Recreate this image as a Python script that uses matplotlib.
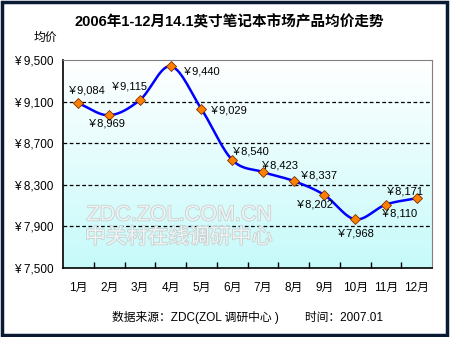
import numpy as np
import matplotlib.pyplot as plt
from matplotlib.patches import Rectangle
import matplotlib.patheffects as pe

plt.rcParams['font.family'] = ['Liberation Sans', 'Noto Sans CJK SC', 'DejaVu Sans']

months = ['1月', '2月', '3月', '4月', '5月', '6月', '7月', '8月', '9月', '10月', '11月', '12月']
prices = [9084, 8969, 9115, 9440, 9029, 8540, 8423, 8337, 8202, 7968, 8110, 8171]
yticks = [7500, 7900, 8300, 8700, 9100, 9500]
# label offsets in points (dx, dy) for each data label
label_off = [(6, 9), (-2, -6), (-8, 9.5), (22, -4), (19.5, -1), (13, 6), (12, 5), (18, 4),
             (-7.5, -6.5), (0, -10), (9.5, -6.5), (-8.5, 4.5)]


def catmull(xs, ys, n=30):
    # smooth curve like excel's smoothed line
    px = np.concatenate([[2 * xs[0] - xs[1]], xs, [2 * xs[-1] - xs[-2]]])
    py = np.concatenate([[2 * ys[0] - ys[1]], ys, [2 * ys[-1] - ys[-2]]])
    ox, oy = [], []
    for i in range(1, len(px) - 2):
        t = np.linspace(0, 1, n, endpoint=False)
        for p, out in ((px, ox), (py, oy)):
            p0, p1, p2, p3 = p[i - 1], p[i], p[i + 1], p[i + 2]
            b1 = p1 + (p2 - p0) / 6.0
            b2 = p2 - (p3 - p1) / 6.0
            out.extend((1 - t) ** 3 * p1 + 3 * (1 - t) ** 2 * t * b1 + 3 * (1 - t) * t ** 2 * b2 + t ** 3 * p2)
    ox.append(xs[-1])
    oy.append(ys[-1])
    return np.array(ox), np.array(oy)


fig = plt.figure(figsize=(4.5, 3.37), dpi=100)
fig.patch.set_facecolor('white')
fig.patches.append(Rectangle((0.004, 0.005), 0.99, 0.99, transform=fig.transFigure,
                             fill=False, edgecolor='#0b1a33', linewidth=2.5))

ax = fig.add_axes([63 / 450, 1 - 268 / 337, 369 / 450, 208 / 337])
x = np.arange(len(months))

# gradient background, white at top to light cyan at bottom
grad = np.linspace(0, 1, 256).reshape(-1, 1)
top = np.array([1.0, 1.0, 1.0])
bot = np.array([0.78, 0.98, 0.98])
img = top + (bot - top) * grad[..., None]
ax.imshow(img.reshape(256, 1, 3), extent=[-0.5, 11.5, 7500, 9500], origin='upper',
          aspect='auto', zorder=0)
ax.set_xlim(-0.5, len(months) - 0.5)
ax.set_ylim(7500, 9500)

for yv in yticks[1:-1]:
    ax.axhline(yv, color='black', linestyle=(0, (3, 2)), linewidth=0.9, zorder=1)

# watermark
wm = [pe.withStroke(linewidth=1.2, foreground='#c8d0d0')]
ax.text(3.27, 8010, 'ZDC.ZOL.COM.CN', fontsize=15.5, color='#eef4f4', ha='center', va='center',
        zorder=1, path_effects=wm)
ax.text(3.27, 7795, '中关村在线调研中心', fontsize=15, color='#eef4f4', ha='center', va='center',
        zorder=1, path_effects=wm)

sx, sy = catmull(x.astype(float), np.array(prices, dtype=float))
ax.plot(sx, sy, color='#0000ff', linewidth=1.8, zorder=3)
ax.plot(x, prices, linestyle='none', marker='D', markersize=5, markerfacecolor='#ff7f00',
        markeredgecolor='#803000', markeredgewidth=0.6, zorder=4)

for i, p in enumerate(prices):
    dx, dy = label_off[i]
    ax.annotate('￥{:,}'.format(p), (x[i], p), xytext=(dx, dy), textcoords='offset points',
                ha='center', va='center', fontsize=8, color='black', zorder=5)

ax.set_yticks(yticks)
ax.set_yticklabels(['¥ {:,}'.format(v) for v in yticks], fontsize=8.5)
ax.set_xticks(x)
ax.set_xticklabels(months, fontsize=8.5)
ax.tick_params(axis='x', length=0, pad=10)
ax.tick_params(axis='y', length=0, pad=7)
ax.set_xticks(np.arange(0.5, 11.5, 1), minor=True)
ax.tick_params(axis='x', which='minor', direction='in', length=4, width=1, color='black')
for s in ['left', 'bottom']:
    ax.spines[s].set_linewidth(1.2)
    ax.spines[s].set_color('black')
for s in ['top', 'right']:
    ax.spines[s].set_linewidth(0.8)
    ax.spines[s].set_color('#808080')

fig.text(0.509, 1 - 22 / 337, '2006年1-12月14.1英寸笔记本市场产品均价走势', ha='center', va='center',
         fontsize=10.5, fontweight='bold')
fig.text(45 / 450, 1 - 38 / 337, '均价', ha='center', va='center', fontsize=8.5)
fig.text(247 / 450, 1 - 317 / 337, '数据来源：ZDC(ZOL 调研中心 )        时间：2007.01', ha='center',
         va='center', fontsize=8.5)

fig.savefig('out.png', dpi=100)
